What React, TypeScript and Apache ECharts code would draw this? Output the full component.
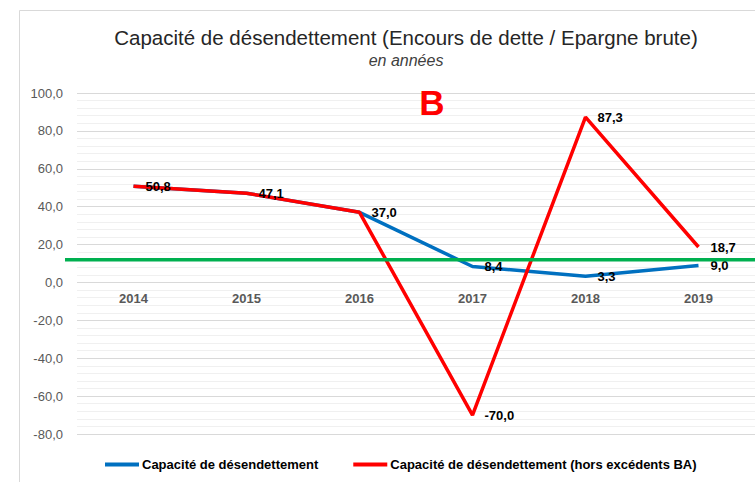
import React, { useEffect, useRef } from "react";
import * as echarts from "echarts";

const years = ["2014", "2015", "2016", "2017", "2018", "2019"];
const capacite = [50.8, 47.1, 37.0, 8.4, 3.3, 9.0];
const capaciteHorsBA = [50.8, 47.1, 37.0, -70.0, 87.3, 18.7];
const seuil = 12;
const yMin = -80;
const yMax = 100;
const yInterval = 20;

const seriesNames = [
  "Capacité de désendettement",
  "Capacité de désendettement (hors excédents BA)",
];

const fmt = (v: number) => v.toFixed(1).replace(".", ",");

export default function App() {
  const ref = useRef<HTMLDivElement>(null);

  useEffect(() => {
    document.body.style.margin = "0";
    const chart = echarts.init(ref.current!, undefined, { renderer: "svg" });
    const font = "'Liberation Sans', Arial, sans-serif";
    const labelStyle = {
      show: true,
      position: "right" as const,
      distance: 12,
      color: "#000",
      fontWeight: "bold" as const,
      fontSize: 13,
      fontFamily: font,
    };
    chart.setOption({
      animation: false,
      textStyle: { fontFamily: font },
      title: {
        text: "Capacité de désendettement (Encours de dette / Epargne brute)",
        subtext: "en années",
        left: 401,
        textAlign: "center",
        top: 22,
        itemGap: 4,
        textStyle: { fontSize: 20.5, fontWeight: "normal", color: "#262626", fontFamily: font },
        subtextStyle: { fontSize: 16, fontStyle: "italic", color: "#404040", fontFamily: font },
      },
      legend: {
        data: seriesNames,
        top: 458,
        left: 105,
        padding: 0,
        icon: "rect",
        itemWidth: 34,
        itemHeight: 4,
        itemGap: 35,
        textStyle: { fontSize: 13, fontWeight: "bold", color: "#000", fontFamily: font, padding: [0, 0, 0, -2] },
      },
      grid: { left: 77, right: -3, top: 93, bottom: 48, containLabel: false },
      xAxis: {
        type: "category",
        data: years,
        boundaryGap: true,
        axisLine: { show: false, onZero: false },
        axisTick: { show: false },
        axisLabel: { color: "#595959", fontWeight: "bold", fontSize: 13, margin: 10, fontFamily: font },
        splitLine: { show: false },
      },
      yAxis: {
        type: "value",
        min: yMin,
        max: yMax,
        interval: yInterval,
        axisLine: { show: false },
        axisTick: { show: false },
        axisLabel: { color: "#595959", fontSize: 13, margin: 14, formatter: (v: number) => fmt(v), fontFamily: font },
        splitLine: { show: true, lineStyle: { color: "#d9d9d9", width: 1 } },
        minorTick: { show: false, splitNumber: 5 },
        minorSplitLine: { show: true, lineStyle: { color: "#f0f0f0", width: 1 } },
      },
      series: [
        {
          name: seriesNames[0],
          type: "line",
          data: capacite,
          showSymbol: true,
          symbol: "circle",
          symbolSize: 0,
          lineStyle: { color: "#0070c0", width: 3.5 },
          itemStyle: { color: "#0070c0" },
          label: { ...labelStyle, formatter: (p: any) => (p.dataIndex < 3 ? "" : fmt(p.value)) },
        },
        {
          name: seriesNames[1],
          type: "line",
          data: capaciteHorsBA,
          showSymbol: true,
          symbol: "circle",
          symbolSize: 0,
          lineStyle: { color: "#ff0000", width: 3.5 },
          itemStyle: { color: "#ff0000" },
          label: { ...labelStyle, formatter: (p: any) => fmt(p.value) },
        },
      ],
    });
    const yGreen = chart.convertToPixel({ yAxisIndex: 0 }, seuil) as number;
    const yZero = chart.convertToPixel({ yAxisIndex: 0 }, 0) as number;
    const yBottom = chart.convertToPixel({ yAxisIndex: 0 }, yMin) as number;
    chart.setOption({
      xAxis: { offset: -(yBottom - yZero) },
      graphic: [
        {
          type: "rect",
          shape: { x: 19.5, y: 10.5, width: 800, height: 600 },
          style: { fill: "none", stroke: "#d9d9d9", lineWidth: 1 },
          silent: true,
          z: 0,
        },
        {
          type: "text",
          x: 432,
          y: 102,
          style: {
            text: "B",
            fill: "#ff0000",
            font: "bold 35px 'Liberation Sans', Arial, sans-serif",
            textAlign: "center",
            textVerticalAlign: "middle",
          },
          z: 10,
        },
        {
          type: "line",
          shape: { x1: 65, y1: yGreen, x2: 755, y2: yGreen },
          style: { stroke: "#00b050", lineWidth: 3.5 },
          z: 10,
        },
      ],
    });
    return () => chart.dispose();
  }, []);

  return (
    <div
      ref={ref}
      style={{ position: "fixed", left: 0, top: 0, width: 755, height: 482, background: "#fff" }}
    />
  );
}
